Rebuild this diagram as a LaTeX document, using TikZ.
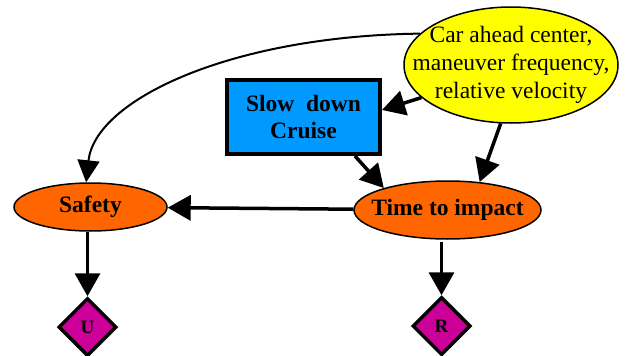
\documentclass[tikz,border=0pt]{standalone}
\usepackage{tikz}
\usepackage{fontspec}
\setmainfont{Liberation Serif}
\newfontfamily\diagfont{Liberation Serif}
\usetikzlibrary{arrows.meta,shapes.geometric}
\definecolor{cyellow}{RGB}{255,255,0}
\definecolor{cblue}{RGB}{0,153,255}
\definecolor{corange}{RGB}{255,102,0}
\definecolor{cmagenta}{RGB}{204,0,153}

\begin{document}
\begin{tikzpicture}[x=1pt, y=-1pt,
      chance/.style={ellipse, draw=black, line width=1.5pt, inner xsep=-30pt, inner ysep=-10pt, align=center,
                     font=\diagfont\fontsize{23.5}{27}\selectfont\bfseries},
      decision/.style={rectangle, draw=black, line width=4pt, fill=cblue, inner sep=0pt, align=center,
                       minimum width=153pt, minimum height=74pt, font=\diagfont\fontsize{23.5}{27}\selectfont\bfseries},
      utility/.style={diamond, draw=black, line width=3.5pt, fill=cmagenta, inner sep=0pt,
                      minimum width=58pt, minimum height=58pt, font=\diagfont\fontsize{19}{22}\selectfont\bfseries},
      arrow/.style={-{Triangle[length=23pt,width=25pt]}, line width=3.5pt},
      thinarrow/.style={-{Triangle[length=22pt,width=22pt]}, line width=2pt}
    ]
    \useasboundingbox (0,0) rectangle (630,356);
    \node[chance, fill=cyellow, minimum width=214pt, minimum height=116pt,
          font=\diagfont\fontsize{23.5}{28}\selectfont] (obs) at (511,65) {Car ahead center,\\maneuver frequency,\\relative velocity};
    \node[decision] (slow) at (303.5,117) {Slow~~down\\Cruise};
    \node[chance, fill=corange, minimum width=187pt, minimum height=58pt] (tti) at (447.5,210) {Time to impact};
    \node[chance, fill=corange, minimum width=153pt, minimum height=48pt] (safety) at (90.5,207) {Safety};
    \node[utility] (u) at (87.5,327) {U};
    \node[utility] (r) at (441.5,326) {R};
    % influences
    \draw[thinarrow] (obs.161) .. controls (230,36) and (95,100) .. (safety.100);
    \draw[arrow] (obs.200) -- ([yshift=7pt]slow.east);
    \draw[arrow] (obs.260) -- (tti.41);
    \draw[arrow] ([xshift=-27pt]slow.south east) -- (tti.161);
    \draw[arrow] (tti) -- (safety);
    \draw[arrow] (u.north |- safety.south) -- (u.north);
    \draw[arrow, shorten <=2pt] (r.north |- tti.south) -- (r.north);
  \end{tikzpicture}
\end{document}
